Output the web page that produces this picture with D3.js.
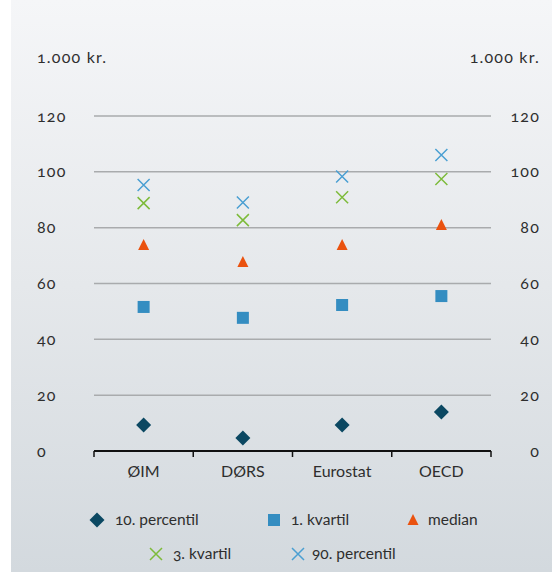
<!DOCTYPE html>
<html>
<head>
<meta charset="utf-8">
<script src="https://cdn.jsdelivr.net/npm/d3@7"></script>
<style>
  html, body { margin: 0; padding: 0; background: #ffffff; }
  svg text { font-family: Lato, "Open Sans", sans-serif; font-variant-numeric: oldstyle-nums; fill: #2e2e2e; }
  svg text.num { letter-spacing: 1.2px; }
</style>
</head>
<body>
<svg id="chart" width="552" height="572"></svg>
<script>
const categories = ["ØIM", "DØRS", "Eurostat", "OECD"];
const p10 = [9.3, 4.7, 9.3, 14.0];
const q1 = [51.6, 47.7, 52.3, 55.5];
const median = [73.8, 67.7, 73.8, 81.0];
const q3 = [88.8, 82.7, 90.9, 97.4];
const p90 = [95.3, 89.0, 98.3, 106.0];
const yTicks = [0, 20, 40, 60, 80, 100, 120];
const unitLabel = "1.000 kr.";

const seriesList = [
  { name: "10. percentil", values: p10, shape: "diamond", color: "#0b4862" },
  { name: "1. kvartil", values: q1, shape: "square", color: "#348dc1" },
  { name: "median", values: median, shape: "triangle", color: "#ea520f" },
  { name: "3. kvartil", values: q3, shape: "cross", color: "#7dbb3a" },
  { name: "90. percentil", values: p90, shape: "cross", color: "#4a9fd2" }
];

(function () {
const svg = d3.select("#chart");
const W = 552, H = 572;
const FS = 16, LFS = 15.5;

const defs = svg.append("defs");
const grad = defs.append("linearGradient").attr("id", "bg").attr("x1", 0).attr("y1", 0).attr("x2", 0).attr("y2", 1);
grad.append("stop").attr("offset", "0%").attr("stop-color", "#f5f6f8");
grad.append("stop").attr("offset", "50%").attr("stop-color", "#e5e8eb");
grad.append("stop").attr("offset", "100%").attr("stop-color", "#d3d9de");
svg.append("rect").attr("x", 11).attr("y", 0).attr("width", W - 11).attr("height", H).attr("fill", "url(#bg)");

const pLeft = 94, pRight = 491, pTop = 116, pBottom = 451;
const x = d3.scaleBand().domain(categories).range([pLeft, pRight]);
const y = d3.scaleLinear().domain([0, 120]).range([pBottom, pTop]);

svg.append("g").selectAll("line").data(yTicks.filter(d => d > 0)).join("line")
  .attr("x1", pLeft).attr("x2", pRight)
  .attr("y1", d => y(d)).attr("y2", d => y(d))
  .attr("stroke", "#a9abad").attr("stroke-width", 1.5);

svg.append("g").selectAll("text").data(yTicks).join("text").attr("class", "num")
  .attr("x", 37).attr("y", d => y(d)).attr("dy", "0.35em")
  .attr("font-size", FS).text(d => d);
svg.append("g").selectAll("text").data(yTicks).join("text").attr("class", "num")
  .attr("x", 540).attr("y", d => y(d)).attr("dy", "0.35em")
  .attr("text-anchor", "end").attr("font-size", FS).text(d => d);

svg.append("text").attr("class", "num").attr("x", 37).attr("y", 57).attr("dy", "0.35em").attr("font-size", FS).text(unitLabel);
svg.append("text").attr("class", "num").attr("x", 540).attr("y", 57).attr("dy", "0.35em").attr("text-anchor", "end").attr("font-size", FS).text(unitLabel);

const xAxis = svg.append("g").attr("transform", `translate(0,${pBottom})`);
xAxis.append("line").attr("x1", pLeft).attr("x2", pRight).attr("y1", 0).attr("y2", 0)
  .attr("stroke", "#111").attr("stroke-width", 2);
const boundaries = categories.map(c => x(c)).concat([x(categories[categories.length - 1]) + x.bandwidth()]);
xAxis.selectAll("line.tick").data(boundaries).join("line").attr("class", "tick")
  .attr("x1", d => d).attr("x2", d => d).attr("y1", 0).attr("y2", 6)
  .attr("stroke", "#111").attr("stroke-width", 1.5);
xAxis.selectAll("text").data(categories).join("text")
  .attr("x", d => x(d) + x.bandwidth() / 2).attr("y", 20).attr("dy", "0.35em")
  .attr("text-anchor", "middle").attr("font-size", FS).text(d => d);

function drawMarker(g, shape, color) {
  if (shape === "diamond") {
    g.append("path").attr("d", "M0,-7.5L7.5,0L0,7.5L-7.5,0Z").attr("fill", color);
  } else if (shape === "square") {
    g.append("rect").attr("x", -6).attr("y", -6).attr("width", 12).attr("height", 12).attr("fill", color);
  } else if (shape === "triangle") {
    g.append("path").attr("d", "M0,-6L5.5,5L-5.5,5Z").attr("fill", color);
  } else {
    g.append("path").attr("d", "M-6,-6L6,6M6,-6L-6,6").attr("stroke", color).attr("stroke-width", 1.5).attr("fill", "none");
  }
}

seriesList.forEach(s => {
  const g = svg.append("g");
  categories.forEach((c, i) => {
    const m = g.append("g").attr("transform", `translate(${x(c) + x.bandwidth() / 2},${y(s.values[i])})`);
    drawMarker(m, s.shape, s.color);
  });
});

const legendPos = [
  { mx: 97, tx: 115, y: 520 },
  { mx: 274, tx: 291, y: 520 },
  { mx: 413, tx: 428, y: 520 },
  { mx: 156, tx: 173, y: 554 },
  { mx: 298, tx: 312, y: 554 }
];
seriesList.forEach((s, i) => {
  const p = legendPos[i];
  const m = svg.append("g").attr("transform", `translate(${p.mx},${p.y})`);
  drawMarker(m, s.shape, s.color);
  svg.append("text").attr("x", p.tx).attr("y", p.y).attr("dy", "0.35em").attr("font-size", LFS).text(s.name);
});
})();
</script>
</body>
</html>
